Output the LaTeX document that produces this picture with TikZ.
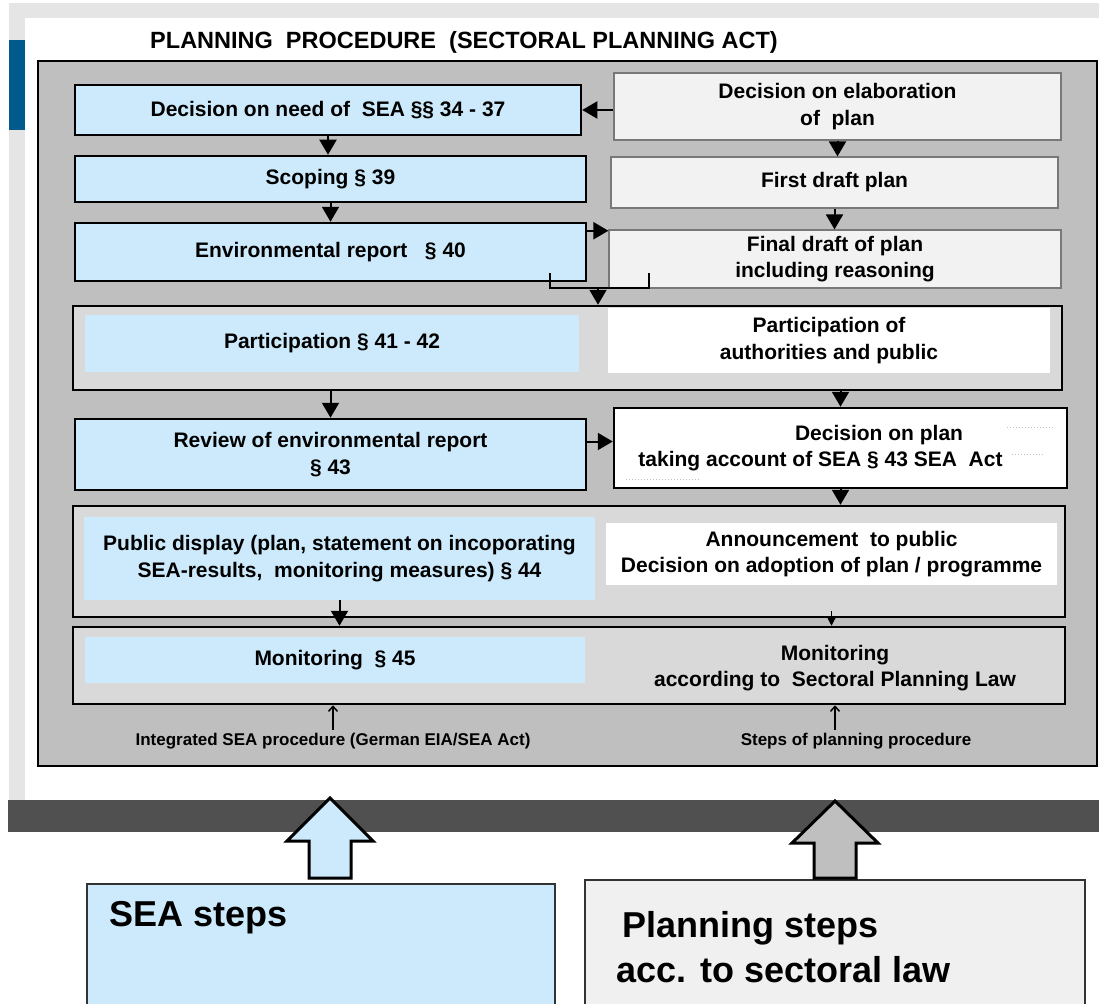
\documentclass[tikz,border=0pt]{standalone}
\usepackage{fontspec}
\setmainfont{Liberation Sans}
\usetikzlibrary{arrows.meta}
\definecolor{seablue}{RGB}{204,234,251}
\definecolor{planfill}{RGB}{242,242,242}
\definecolor{outerfill}{RGB}{191,191,191}
\definecolor{groupfill}{RGB}{217,217,217}
\definecolor{bandgrey}{RGB}{80,80,80}
\definecolor{pagegrey}{RGB}{228,229,228}
\definecolor{barblue}{RGB}{0,90,140}
\definecolor{framegrey}{RGB}{120,120,120}
\definecolor{lowfill}{RGB}{240,240,240}

\begin{document}
\begin{tikzpicture}[x=1pt,y=-1pt,
  txt/.style={font=\bfseries\fontsize{21}{26.5}\selectfont, align=center},
  box/.style={rectangle, inner sep=0pt, anchor=center},
  sea/.style={box, txt, draw=black, line width=2.5pt, fill=seablue},
  plan/.style={box, txt, draw=framegrey, line width=1.2pt, fill=planfill},
  group/.style={box, draw=black, line width=2.5pt, fill=groupfill},
  small/.style={font=\bfseries\fontsize{17}{20}\selectfont},
  bigtxt/.style={font=\bfseries\fontsize{36}{45}\selectfont, align=left, anchor=west},
  arr/.style={line width=2pt, -{Triangle[length=15pt,width=17pt]}},
  minarr/.style={line width=1.2pt, -{Triangle[length=9pt,width=9pt]}},
  uparr/.style={line width=1.5pt, -{Straight Barb[length=5pt,width=9pt]}}
]
\useasboundingbox (0,0) rectangle (1099,1003);
% page
\fill[white] (0,0) rectangle (1099,1003);
\fill[pagegrey] (9,3) rectangle (1099,800);
\fill[white] (25,18) rectangle (1099,800);
\fill[barblue] (9,40) rectangle (25,130);
\fill[bandgrey] (8,800) rectangle (1099,832);

\node[font=\bfseries\fontsize{23.5}{28}\selectfont] (T) at (464,42) {PLANNING\ \ PROCEDURE\ \ (SECTORAL PLANNING ACT)};
\node[box, draw=black, line width=2pt, fill=outerfill, minimum width=1059pt, minimum height=705pt] (O) at (567.5,413.5) {};

% SEA steps / planning steps
\node[sea, minimum width=506pt, minimum height=50pt] (S1) at (328,110) {Decision on need of\ \ SEA §§ 34 - 37};
\node[sea, minimum width=511pt, minimum height=46pt] (S2) at (330.5,179) {Scoping § 39};
\node[sea, minimum width=511pt, minimum height=58pt] (S3) at (330.5,252) {Environmental report\ \ \ § 40};
\node[plan, minimum width=447pt, minimum height=67pt] (P1) at (837.5,106.5) {Decision on elaboration\\of\ \ plan};
\node[plan, minimum width=447pt, minimum height=51pt] (P2) at (834.5,182.5) {First draft plan};
\node[plan, minimum width=452pt, minimum height=58pt] (P3) at (835,259) {Final draft of plan\\including reasoning};

\node[group, minimum width=989pt, minimum height=84pt] (G1) at (567.5,348) {};
\node[box, txt, fill=seablue, minimum width=494pt, minimum height=57pt] (S4) at (332,343.5) {Participation § 41 - 42};
\node[box, txt, fill=white, minimum width=442pt, minimum height=65pt] (P4) at (829,340.5) {Participation of\\authorities and public};

\node[sea, minimum width=511pt, minimum height=71pt] (S5) at (330.5,454.5) {Review of environmental report\\§ 43};
\node[box, txt, draw=black, line width=2.5pt, fill=white, minimum width=453pt, minimum height=80pt] (P5) at (840.5,448)
  {\hspace*{77pt}Decision on plan\\taking account of SEA § 43 SEA\ \ Act\hspace*{40pt}};

\node[group, minimum width=992pt, minimum height=111pt] (G2) at (569,561.5) {};
\node[box, txt, fill=seablue, minimum width=511pt, minimum height=83pt] (S6) at (339.5,558.5) {Public display (plan, statement on incoporating\\SEA-results,\ \ monitoring measures) § 44};
\node[box, txt, fill=white, minimum width=451pt, minimum height=62pt] (P6) at (831.5,554) {Announcement\ \ to public\\Decision on adoption of plan / programme};

\node[group, minimum width=992pt, minimum height=77pt] (G3) at (569,665.5) {};
\node[box, txt, fill=seablue, minimum width=500pt, minimum height=46pt] (S7) at (335,660) {Monitoring\ \ § 45};
\node[txt] (P7) at (835,668) {Monitoring\\according to\ \ Sectoral Planning Law};

\node[small] (L1) at (333,741) {Integrated SEA procedure (German EIA/SEA Act)};
\node[small] (L2) at (856,741) {Steps of planning procedure};

% arrows
\draw[arr] (P1.west |- S1.east) -- (S1.east);
\draw[arr] (S1.south) -- (S1.south |- S2.north);
\draw[arr] (S2.south) -- (S2.south |- S3.north);
\draw[arr] (P1.south) -- (P1.south |- P2.north);
\draw[arr] (P2.south) -- (P2.south |- P3.north);
\draw[arr] ([yshift=-9pt]S3.north east) -- ([yshift=-9pt]S3.north east -| P3.west);
\coordinate (K1) at (550,273);
\coordinate (K2) at (649,273);
\coordinate (K3) at (598,288);
\draw[line width=2.5pt] (K1) -- (K1 |- K3) -- (K2 |- K3) -- (K2);
\draw[arr] (K3) -- (K3 |- G1.north);
\draw[arr] (S5.north |- G1.south) -- (S5.north);
\draw[arr] (P5.north |- G1.south) -- (P5.north);
\draw[arr] ([yshift=13pt]S5.east) -- ([yshift=13pt]S5.east -| P5.west);
\draw[arr] (P5.south) -- (P5.south |- G2.north);
\draw[arr] (S6.south) -- (S6.south |- G3.north);
\draw[minarr] ([yshift=7pt]P6.south |- G2.south) -- (P6.south |- G3.north);
\draw[uparr] (L1.north) -- (L1.north |- G3.south);
\draw[uparr] (L2.north -| P7.south) -- (P7.south |- G3.south);
\draw[gray!50, dotted, line width=1pt] (1007,427) -- (1055,427);
\draw[gray!50, dotted, line width=1pt] (1012,454) -- (1043,454);
\draw[gray!50, dotted, line width=1pt] (626,479) -- (700,479);

% legend boxes below
\node[box, draw=black!80, line width=1.2pt, fill=seablue, minimum width=468pt, minimum height=130pt] (B1) at (321,949) {};
\node[box, draw=black!80, line width=1.2pt, fill=lowfill, minimum width=500pt, minimum height=134pt] (B2) at (835,947) {};
\node[bigtxt] (B1t) at ([xshift=20pt,yshift=-34pt]B1.north west) {SEA steps};
\node[bigtxt] (B2t) at ([xshift=29pt]B2.west) {\hspace*{6pt}Planning steps\\acc. to sectoral law};
\draw[line width=3pt, fill=seablue] (309,878) -- (309,841) -- (287,841) -- (330,798) -- (373,841) -- (351,841) -- (351,878) -- cycle;
\draw[line width=3pt, fill=outerfill] (814,878) -- (814,843) -- (792,843) -- (835,801) -- (878,843) -- (856,843) -- (856,878) -- cycle;
\end{tikzpicture}
\end{document}
